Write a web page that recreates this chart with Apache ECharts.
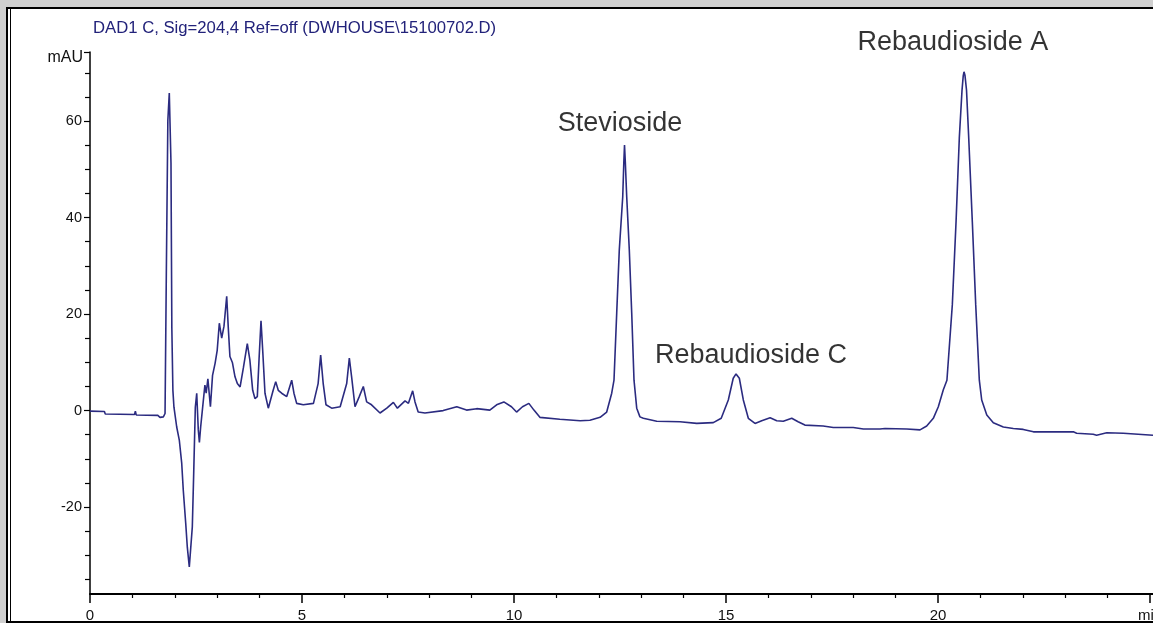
<!DOCTYPE html>
<html><head><meta charset="utf-8">
<script src="https://cdn.jsdelivr.net/npm/echarts@6/dist/echarts.min.js"></script>
<style>html,body{margin:0;padding:0;background:#d0d0d0;}#c{width:1153px;height:623px;}</style>
</head><body><div id="c"></div>
<script>
// Retention time (min) and detector signal (mAU)
const timeMin = [0.00,0.34,0.36,1.05,1.07,1.09,1.60,1.65,1.73,1.77,1.80,1.836,1.87,1.91,1.93,1.955,1.98,2.045,2.106,2.163,2.20,2.257,2.295,2.342,2.375,2.413,2.446,2.484,2.517,2.554,2.58,2.61,2.65,2.71,2.74,2.78,2.815,2.84,2.89,2.95,3.00,3.05,3.106,3.16,3.224,3.26,3.30,3.36,3.42,3.475,3.54,3.62,3.71,3.77,3.837,3.89,3.946,3.99,4.033,4.073,4.127,4.205,4.245,4.32,4.38,4.44,4.52,4.64,4.757,4.81,4.874,5.03,5.27,5.38,5.44,5.50,5.566,5.70,5.90,6.054,6.116,6.17,6.25,6.35,6.446,6.525,6.64,6.84,7.00,7.155,7.25,7.43,7.51,7.61,7.665,7.74,7.90,8.33,8.65,8.88,9.12,9.43,9.59,9.76,9.94,10.06,10.20,10.35,10.47,10.61,11.08,11.56,11.79,12.03,12.186,12.304,12.358,12.422,12.483,12.564,12.59,12.606,12.625,12.658,12.719,12.776,12.83,12.894,12.97,13.05,13.366,13.915,14.31,14.70,14.887,15.054,15.17,15.236,15.314,15.408,15.526,15.684,15.842,16.04,16.196,16.35,16.55,16.70,16.86,17.29,17.53,18.00,18.24,18.63,18.75,19.262,19.30,19.575,19.733,19.889,20.007,20.125,20.21,20.337,20.425,20.502,20.566,20.595,20.613,20.635,20.672,20.724,20.809,20.889,20.974,21.03,21.15,21.304,21.54,21.776,22.01,22.25,23.19,23.27,23.66,23.74,23.98,24.37,24.41,25.07];
const signal = [-0.1,-0.2,-0.7,-0.8,-0.1,-0.9,-1.0,-1.4,-1.3,-0.6,28.3,60.1,65.8,51.3,17.1,4.2,0.7,-3.4,-6.1,-10.9,-16.5,-23.3,-28.3,-32.4,-32.6,-24.1,-12.9,0.7,3.6,-4.0,-6.6,-3.4,0.1,5.3,3.6,6.6,7.0,0.8,7.3,9.8,12.5,18.1,15.0,17.5,23.7,17.4,11.2,9.9,7.0,5.6,4.9,9.0,13.9,10.5,4.2,2.5,2.9,11.2,18.6,12.5,3.6,0.5,0.1,4.2,6.0,4.2,3.6,2.9,6.3,3.6,1.5,1.2,1.5,5.6,11.5,5.6,1.2,0.5,0.8,5.6,10.9,7.0,0.8,2.9,5.0,1.8,1.2,-0.5,0.5,1.7,0.5,2.0,1.5,4.1,1.8,-0.3,-0.5,0.0,0.8,0.1,0.4,0.1,1.2,1.8,0.8,-0.3,0.8,1.5,0.1,-1.4,-1.8,-2.1,-2.0,-1.4,-0.3,3.6,6.3,20.2,33.3,44.3,51.5,55.0,51.5,44.3,33.3,20.2,6.3,0.5,-1.3,-1.6,-2.2,-2.3,-2.65,-2.5,-1.6,2.2,6.7,7.6,6.7,2.2,-1.6,-2.65,-2.1,-1.5,-2.1,-2.2,-1.6,-2.3,-3.0,-3.2,-3.5,-3.5,-3.8,-3.8,-3.7,-3.8,-4.2,-4.0,-3.2,-1.6,0.8,4.3,6.3,21.9,39.1,56.5,66.4,69.4,70.2,69.5,66.4,56.5,39.1,21.9,6.3,2.2,-0.9,-2.5,-3.4,-3.7,-3.9,-4.4,-4.4,-4.7,-4.9,-5.1,-4.6,-4.7,-5.1,-5.1];

// Axis ticks and labels
const yLabelTicks = [-20, 0, 20, 40, 60];
const yMinorTicks = [-35,-30,-25,-15,-10,-5,5,10,15,25,30,35,45,50,55,65,70];
const xLabelTicks = [0, 5, 10, 15, 20, 25];
const xMinorTicks = [1,2,3,4,6,7,8,9,11,12,13,14,16,17,18,19,21,22,23,24];

// Peak annotations
const peakNames = ['Stevioside', 'Rebaudioside C', 'Rebaudioside A'];
const peakLabelTime = [12.5, 15.59, 20.35];
const peakLabelValue = [59.4, 11.5, 76.2];

const Y_MIN = -38, Y_MAX = 74.3, X_MAX = 25.07;
const FONT = 'Liberation Sans, Arial, sans-serif';

const chart = echarts.init(document.getElementById('c'), null, {renderer: 'canvas'});
chart.setOption({
  animation: false,
  backgroundColor: '#d0d0d0',
  graphic: [
    {type: 'rect', z: -10, silent: true, shape: {x: 7, y: 8, width: 1170, height: 614},
     style: {fill: '#ffffff', stroke: '#000000', lineWidth: 2}},
    {type: 'line', z: -9, silent: true, shape: {x1: 10.5, y1: 8, x2: 10.5, y2: 622},
     style: {stroke: '#000000', lineWidth: 1}}
  ],
  title: {
    text: 'DAD1 C, Sig=204,4 Ref=off (DWHOUSE\\15100702.D)',
    left: 93, top: 20, padding: 0,
    textStyle: {fontFamily: FONT, fontSize: 16.7, fontWeight: 'normal', color: '#22227a'}
  },
  grid: {left: 90, right: 0, top: 52, bottom: 29, containLabel: false, outerBoundsMode: 'none'},
  xAxis: [
    {type: 'value', min: 0, max: X_MAX,
     axisLine: {onZero: false, lineStyle: {color: '#000', width: 2}},
     splitLine: {show: false},
     axisTick: {customValues: xLabelTicks, length: 9, lineStyle: {color: '#000', width: 1.5}},
     axisLabel: {customValues: xLabelTicks, formatter: v => v === 25 ? 'min' : String(v),
                 fontFamily: FONT, fontSize: 15, color: '#111', margin: 14}},
    {type: 'value', min: 0, max: X_MAX, position: 'bottom',
     axisLine: {show: false, onZero: false}, splitLine: {show: false},
     axisTick: {customValues: xMinorTicks, length: 4, lineStyle: {color: '#000', width: 1.2}},
     axisLabel: {show: false}}
  ],
  yAxis: [
    {type: 'value', min: Y_MIN, max: Y_MAX,
     name: 'mAU', nameLocation: 'end', nameGap: -6,
     nameTextStyle: {fontFamily: FONT, fontSize: 16, color: '#111', align: 'right', verticalAlign: 'middle', padding: [0, 7, 0, 0]},
     axisLine: {onZero: false, lineStyle: {color: '#000', width: 1.5}},
     splitLine: {show: false},
     axisTick: {customValues: yLabelTicks.concat([Y_MAX]), length: 6, lineStyle: {color: '#000', width: 1.2}},
     axisLabel: {customValues: yLabelTicks, fontFamily: FONT, fontSize: 14.5, color: '#111', margin: 8}},
    {type: 'value', min: Y_MIN, max: Y_MAX, position: 'left',
     axisLine: {show: false, onZero: false}, splitLine: {show: false},
     axisTick: {customValues: yMinorTicks, length: 5, lineStyle: {color: '#000', width: 1.2}},
     axisLabel: {show: false}}
  ],
  series: [
    {type: 'line', name: 'DAD1 C', xAxisIndex: 0, yAxisIndex: 0,
     data: timeMin.map((t, i) => [t, signal[i]]),
     showSymbol: false, symbol: 'none', clip: true,
     lineStyle: {color: '#2b2b80', width: 1.6}},
    {type: 'scatter', xAxisIndex: 0, yAxisIndex: 0, clip: false, silent: true,
     data: peakNames.map((n, i) => [peakLabelTime[i], peakLabelValue[i], n]),
     symbolSize: 1, itemStyle: {color: 'rgba(0,0,0,0)'},
     label: {show: true, position: 'inside', formatter: p => p.data[2],
             fontFamily: FONT, fontSize: 27, color: '#000'}}
  ]
});
</script>
</body></html>
